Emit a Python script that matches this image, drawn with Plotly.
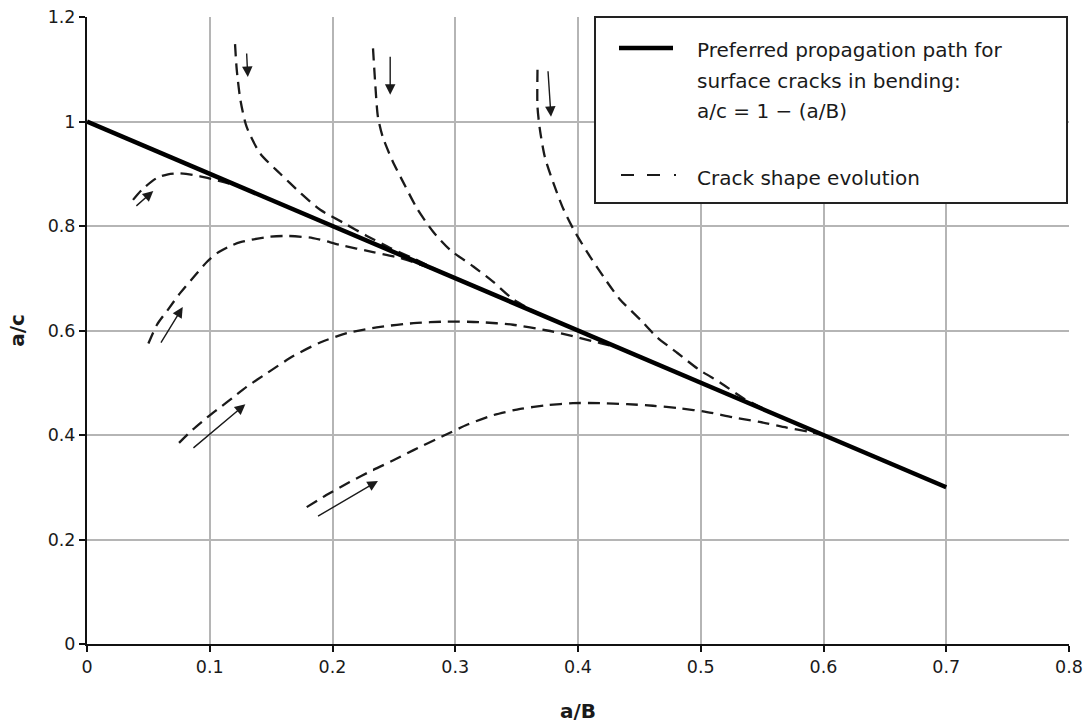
import plotly.graph_objects as go

# ---- axis ticks ----
x_ticks = [0, 0.1, 0.2, 0.3, 0.4, 0.5, 0.6, 0.7, 0.8]
x_tick_text = ["0", "0.1", "0.2", "0.3", "0.4", "0.5", "0.6", "0.7", "0.8"]
y_ticks = [0, 0.2, 0.4, 0.6, 0.8, 1.0, 1.2]
y_tick_text = ["0", "0.2", "0.4", "0.6", "0.8", "1", "1.2"]

# ---- preferred propagation path: a/c = 1 - (a/B) ----
path_aB = [0.0, 0.7]
path_ac = [1 - v for v in path_aB]

# ---- crack shape evolution curves (a/B, a/c) ----
evo1_x = [0.0375, 0.045, 0.057, 0.066, 0.075, 0.086, 0.098, 0.110, 0.122]
evo1_y = [0.850, 0.870, 0.892, 0.899, 0.901, 0.898, 0.892, 0.885, 0.877]

evo2_x = [0.050, 0.057, 0.066, 0.076, 0.089, 0.098, 0.106, 0.117, 0.125, 0.147,
          0.163, 0.184, 0.206, 0.233, 0.255, 0.274, 0.290]
evo2_y = [0.575, 0.611, 0.640, 0.672, 0.708, 0.732, 0.748, 0.762, 0.769, 0.779,
          0.781, 0.777, 0.764, 0.750, 0.739, 0.724, 0.710]

evo3_x = [0.075, 0.086, 0.097, 0.108, 0.119, 0.130, 0.147, 0.168, 0.190, 0.212,
          0.239, 0.266, 0.293, 0.320, 0.347, 0.375, 0.396, 0.418, 0.432]
evo3_y = [0.385, 0.410, 0.432, 0.452, 0.472, 0.492, 0.519, 0.551, 0.577, 0.595,
          0.607, 0.614, 0.617, 0.616, 0.611, 0.600, 0.589, 0.576, 0.568]

evo4_x = [0.179, 0.195, 0.214, 0.233, 0.250, 0.266, 0.290, 0.310, 0.331, 0.353,
          0.375, 0.396, 0.418, 0.440, 0.461, 0.483, 0.505, 0.526, 0.548, 0.570,
          0.589, 0.600]
evo4_y = [0.262, 0.285, 0.310, 0.333, 0.352, 0.371, 0.398, 0.420, 0.438, 0.450,
          0.457, 0.461, 0.461, 0.459, 0.456, 0.451, 0.444, 0.434, 0.425, 0.414,
          0.406, 0.400]

evo5_x = [0.1206, 0.122, 0.125, 0.130, 0.141, 0.157, 0.174, 0.190, 0.209, 0.228,
          0.247, 0.265, 0.285]
evo5_y = [1.148, 1.099, 1.041, 0.990, 0.939, 0.901, 0.863, 0.831, 0.806, 0.781,
          0.758, 0.739, 0.716]

evo6_x = [0.233, 0.235, 0.237, 0.241, 0.249, 0.258, 0.269, 0.282, 0.296, 0.315,
          0.331, 0.347, 0.365]
evo6_y = [1.140, 1.066, 1.009, 0.970, 0.924, 0.882, 0.833, 0.789, 0.754, 0.722,
          0.693, 0.660, 0.636]

evo7_x = [0.367, 0.367, 0.369, 0.373, 0.380, 0.388, 0.396, 0.408, 0.421, 0.434,
          0.451, 0.464, 0.481, 0.498, 0.516, 0.535, 0.555]
evo7_y = [1.099, 1.028, 0.984, 0.932, 0.882, 0.833, 0.795, 0.748, 0.702, 0.660,
          0.620, 0.588, 0.557, 0.526, 0.500, 0.470, 0.446]

# ---- growth direction arrows: tail (x0, y0) -> head (x1, y1) ----
arrow_x0 = [0.039, 0.0595, 0.0855, 0.187, 0.130, 0.247, 0.3755]
arrow_y0 = [0.836, 0.574, 0.373, 0.243, 1.133, 1.127, 1.099]
arrow_x1 = [0.054, 0.078, 0.129, 0.237, 0.131, 0.247, 0.378]
arrow_y1 = [0.867, 0.645, 0.459, 0.312, 1.085, 1.051, 1.009]

# ---- legend text ----
legend_solid_lines = ["Preferred propagation path for",
                      "surface cracks in bending:",
                      "a/c = 1 \u2212 (a/B)"]
legend_dashed_label = "Crack shape evolution"

FONT = "DejaVu Sans, Verdana, sans-serif"
INK = "#1a1a1a"

fig = go.Figure()

evolution = [(evo1_x, evo1_y), (evo2_x, evo2_y), (evo3_x, evo3_y), (evo4_x, evo4_y),
             (evo5_x, evo5_y), (evo6_x, evo6_y), (evo7_x, evo7_y)]
for ex, ey in evolution:
    fig.add_trace(go.Scatter(
        x=ex, y=ey, mode="lines",
        line=dict(color=INK, width=2.3, dash="12px,7px", shape="spline", smoothing=0.7),
        showlegend=False, hoverinfo="skip",
    ))

fig.add_trace(go.Scatter(
    x=path_aB, y=path_ac, mode="lines",
    line=dict(color="black", width=4.5),
    showlegend=False, hoverinfo="skip",
))

annotations = []
for x0, y0, x1, y1 in zip(arrow_x0, arrow_y0, arrow_x1, arrow_y1):
    annotations.append(dict(
        x=x1, y=y1, ax=x0, ay=y0, xref="x", yref="y", axref="x", ayref="y",
        text="", showarrow=True, arrowhead=2, arrowsize=1.5, arrowwidth=1.4,
        arrowcolor=INK, standoff=0, startstandoff=0,
    ))

# legend block drawn in paper coordinates inside the plot area
PLOT_L, PLOT_R, PLOT_T, PLOT_B = 87, 1069, 17, 644


def px(xp):
    return (xp - PLOT_L) / (PLOT_R - PLOT_L)


def py(yp):
    return (PLOT_B - yp) / (PLOT_B - PLOT_T)


shapes = [
    dict(type="rect", xref="paper", yref="paper",
         x0=px(595), x1=px(1067), y0=py(203), y1=py(17),
         line=dict(color="#222222", width=2), fillcolor="white", layer="above"),
    dict(type="line", xref="paper", yref="paper",
         x0=px(619), x1=px(673), y0=py(48), y1=py(48),
         line=dict(color="black", width=4.5), layer="above"),
    dict(type="line", xref="paper", yref="paper",
         x0=px(621), x1=px(679), y0=py(175), y1=py(175),
         line=dict(color=INK, width=2, dash="13px,13px,13px,14px,2px,20px"), layer="above"),
]

for txt, yp in zip(legend_solid_lines, [50, 81, 111]):
    annotations.append(dict(
        x=px(695), y=py(yp), xref="paper", yref="paper", xanchor="left", yanchor="middle",
        text=txt, showarrow=False, font=dict(family=FONT, size=20, color=INK),
    ))
annotations.append(dict(
    x=px(695), y=py(178), xref="paper", yref="paper", xanchor="left", yanchor="middle",
    text=legend_dashed_label, showarrow=False, font=dict(family=FONT, size=20, color=INK),
))

axis_common = dict(
    showgrid=True, gridcolor="#b5b5b5", gridwidth=2,
    zeroline=False, showline=True, linecolor="#111111", linewidth=2,
    ticks="outside", ticklen=6, tickwidth=1.5, tickcolor="#111111",
    tickfont=dict(family=FONT, size=17.5, color=INK),
    automargin=False,
)

fig.update_layout(
    width=1086, height=723,
    margin=dict(l=PLOT_L, r=1086 - PLOT_R, t=PLOT_T, b=723 - PLOT_B),
    paper_bgcolor="white", plot_bgcolor="white",
    xaxis=dict(range=[0, 0.8], tickvals=x_ticks, ticktext=x_tick_text,
               title=dict(text="<b>a/B</b>", font=dict(family=FONT, size=20, color=INK), standoff=28),
               **axis_common),
    yaxis=dict(range=[0, 1.2], tickvals=y_ticks, ticktext=y_tick_text,
               title=dict(text="<b>a/c</b>", font=dict(family=FONT, size=20, color=INK), standoff=18),
               **axis_common),
    shapes=shapes,
    annotations=annotations,
    showlegend=False,
)

fig.write_html("out.html")
